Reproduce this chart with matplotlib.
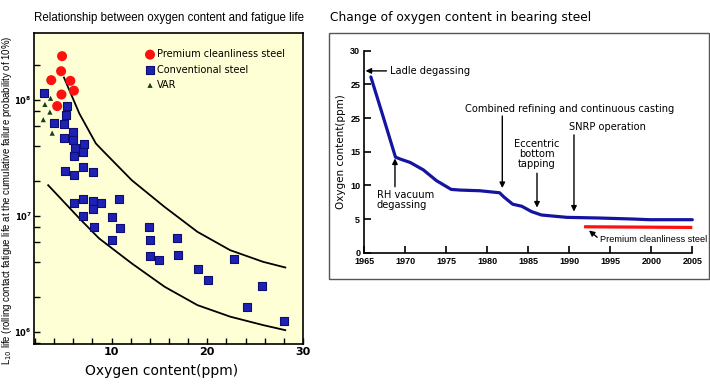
import matplotlib
matplotlib.use("Agg")
import matplotlib.pyplot as plt
import numpy as np
from matplotlib.ticker import LogLocator, NullFormatter, FixedLocator, FuncFormatter, MultipleLocator
from matplotlib.patches import Rectangle

# ---------------- data: left chart ----------------
premium_x = [4.83, 4.73, 3.70, 5.70, 6.07, 4.77, 4.32]
premium_y = [2.4e8, 1.78e8, 1.49e8, 1.47e8, 1.21e8, 1.12e8, 8.9e7]

var_x = [3.63, 3.04, 3.56, 2.87, 3.80]
var_y = [1.04e8, 9.2e7, 7.9e7, 6.8e7, 5.2e7]

conv_x = [2.97, 5.33, 5.22, 3.95, 5.08, 5.96, 5.0, 5.98, 7.17, 6.22, 7.04, 6.12, 5.12, 6.12, 7.04, 8.08,
          6.07, 7.07, 8.04, 8.9, 8.07, 7.07, 10.75, 10.0, 8.21, 10.85, 10.05,
          13.9, 13.99, 14.0, 14.96, 16.85, 16.98, 19.0, 20.07, 22.81, 25.75, 24.11, 28.06]
conv_y = [1.15e8, 8.9e7, 7.4e7, 6.3e7, 6.2e7, 5.3e7, 4.7e7, 4.5e7, 4.2e7, 3.9e7, 3.6e7, 3.3e7, 2.46e7, 2.28e7, 2.66e7, 2.39e7,
          1.29e7, 1.41e7, 1.35e7, 1.29e7, 1.15e7, 1.01e7, 1.40e7, 9.9e6, 8.0e6, 7.9e6, 6.2e6,
          8.0e6, 6.2e6, 4.5e6, 4.17e6, 6.5e6, 4.6e6, 3.5e6, 2.8e6, 4.3e6, 2.5e6, 1.64e6, 1.24e6]

upper_x = [5.03, 6.64, 8.36, 9.03, 10.06, 12.12, 15.55, 18.97, 22.39, 25.83, 28.15]
upper_y = [1.57e8, 7.67e7, 4.24e7, 3.71e7, 3.04e7, 2.04e7, 1.20e7, 7.33e6, 5.09e6, 4.04e6, 3.61e6]

lower_x = [3.38, 6.65, 8.70, 12.12, 15.55, 18.97, 22.39, 25.83, 28.15]
lower_y = [1.85e7, 9.55e6, 6.43e6, 3.91e6, 2.46e6, 1.71e6, 1.36e6, 1.15e6, 1.04e6]

legend_labels = ["Premium cleanliness steel", "Conventional steel", "VAR"]

# ---------------- data: right chart ----------------
years = [1965.8, 1967.3, 1968.8, 1969.4, 1970.6, 1972.2, 1973.8, 1975.6, 1976.7, 1979.1, 1981.5,
         1982.0, 1983.1, 1984.2, 1985.4, 1986.6, 1989.7, 1993.7, 1997.8, 1999.8, 2005.0]
oxygen = [26.1, 20.2, 14.2, 13.9, 13.4, 12.3, 10.7, 9.4, 9.3, 9.2, 8.9,
          8.3, 7.2, 6.9, 6.1, 5.6, 5.25, 5.15, 5.0, 4.9, 4.9]
premium_years = [1991.8, 2005.0]
premium_oxygen = [3.85, 3.75]

year_ticks = [1965, 1970, 1975, 1980, 1985, 1990, 1995, 2000, 2005]
ppm_ticks = [0, 5, 10, 15, 20, 25, 30]
ppm_labels = ["0", "5", "10", "15", "25", "25", "30"]

NARROW = ["Liberation Sans", "DejaVu Sans"]
plt.rcParams['font.family'] = ['DejaVu Sans']

W, H = 710, 391
fig = plt.figure(figsize=(W / 100, H / 100), dpi=100)

def fx(px):
    return px / W

def fy(py):
    return 1 - py / H

# ---------------- left chart ----------------
axL = fig.add_axes([fx(34), fy(344), fx(303) - fx(34), fy(33) - fy(344)])
axL.set_facecolor('#FFFFD5')
axL.set_yscale('log')
axL.set_xlim(1.9, 30)
axL.set_ylim(7.9e5, 3.8e8)

axL.plot(upper_x, upper_y, color='black', lw=1.3, zorder=2)
axL.plot(lower_x, lower_y, color='black', lw=1.3, zorder=2)
h1 = axL.scatter(premium_x, premium_y, s=52, marker='o', color='#FF1010', edgecolors='none', zorder=4)
h2 = axL.scatter(conv_x, conv_y, s=30, marker='s', facecolor='#1E22B4', edgecolors='#0E0E70', linewidths=0.8, zorder=3)
h3 = axL.scatter(var_x, var_y, s=14, marker='^', color='#1C3D1C', edgecolors='none', zorder=3)

axL.xaxis.set_major_locator(FixedLocator([10, 20, 30]))
axL.xaxis.set_minor_locator(MultipleLocator(2))
axL.yaxis.set_major_locator(LogLocator(base=10, numticks=10))
axL.yaxis.set_minor_locator(LogLocator(base=10, subs=(2, 4, 6, 8), numticks=10))
axL.yaxis.set_minor_formatter(NullFormatter())
axL.yaxis.set_major_formatter(FuncFormatter(lambda v, p: r'$\mathbf{10^{%d}}$' % round(np.log10(v))))
axL.tick_params(which='both', direction='in', length=4, width=1, top=False, right=False)
axL.tick_params(axis='x', labelsize=8, pad=2)
axL.tick_params(axis='y', labelsize=6.0, pad=1.5)
for lab in axL.get_xticklabels():
    lab.set_fontweight('bold')
for s in axL.spines.values():
    s.set_linewidth(1.2)

leg = axL.legend([h1, h2, h3], legend_labels, loc='upper left', bbox_to_anchor=(0.415, 0.948),
                 frameon=False, fontsize=7, handletextpad=0.25, handlelength=0.9,
                 labelspacing=0.55, borderpad=0, borderaxespad=0, scatterpoints=1)

fig.text(fx(169), fy(18), "Relationship between oxygen content and fatigue life",
         ha='center', va='center', fontsize=8.3, family=NARROW)
fig.text(fx(7.5), fy(200), "L$_{10}$ life (rolling contact fatigue life at the cumulative failure probability of 10%)",
         ha='center', va='center', rotation=90, fontsize=6.9, family=NARROW)
fig.text(fx(161.5), fy(371), "Oxygen content(ppm)", ha='center', va='center', fontsize=10)

# ---------------- right chart ----------------
box = Rectangle((fx(328.5), fy(279)), fx(709) - fx(328.5), fy(33.3) - fy(279),
                transform=fig.transFigure, fill=False, edgecolor='#555555', lw=1.0)
fig.patches.append(box)

axR = fig.add_axes([fx(364.3), fy(252.7), fx(692.3) - fx(364.3), fy(50.7) - fy(252.7)])
axR.patch.set_alpha(0)
axR.set_xlim(1965, 2005)
axR.set_ylim(0, 30)
axR.spines['top'].set_visible(False)
axR.spines['right'].set_visible(False)
axR.spines['left'].set_linewidth(1.2)
axR.spines['bottom'].set_linewidth(1.2)
axR.set_xticks(year_ticks)
axR.set_xticklabels([str(y) for y in year_ticks])
axR.set_yticks(ppm_ticks)
axR.set_yticklabels(ppm_labels)
axR.tick_params(direction='in', length=5, width=1.2, labelsize=6.5)
axR.tick_params(axis='x', pad=3)
axR.tick_params(axis='y', pad=3)
for lab in axR.get_xticklabels() + axR.get_yticklabels():
    lab.set_fontweight('bold')
    lab.set_family(NARROW)

axR.plot(years, oxygen, color='#1414A0', lw=2.3, solid_capstyle='round', solid_joinstyle='round', clip_on=False)
axR.plot(premium_years, premium_oxygen, color='#FF1010', lw=2.3, solid_capstyle='butt', clip_on=False)

axR.set_ylabel("Oxygen content(ppm)", fontsize=7.5, labelpad=3)

arrow = dict(arrowstyle='-|>', color='black', lw=1.0, mutation_scale=8, shrinkA=0, shrinkB=0)
fs = 7.1
axR.annotate('', xy=(1965.15, 27.0), xytext=(1967.7, 27.0), arrowprops=arrow)
axR.text(1968.1, 27.0, "Ladle degassing", fontsize=fs, va='center', ha='left')

axR.annotate('', xy=(1968.74, 14.0), xytext=(1968.74, 9.8), arrowprops=arrow)
axR.text(1966.5, 7.8, "RH vacuum\ndegassing", fontsize=fs, va='center', ha='left', linespacing=1.0)

axR.annotate('', xy=(1981.83, 9.6), xytext=(1981.83, 20.3), arrowprops=arrow)
axR.text(1990.0, 21.3, "Combined refining and continuous casting", fontsize=fs, va='center', ha='center')

axR.annotate('', xy=(1986.06, 6.7), xytext=(1986.06, 11.8), arrowprops=arrow)
axR.text(1986.06, 14.6, "Eccentric\nbottom\ntapping", fontsize=fs, va='center', ha='center', linespacing=1.0)

axR.annotate('', xy=(1990.57, 6.1), xytext=(1990.57, 17.5), arrowprops=arrow)
axR.text(1990.0, 18.6, "SNRP operation", fontsize=fs, va='center', ha='left')

axR.annotate('', xy=(1992.4, 3.3), xytext=(1993.4, 2.3), arrowprops=arrow)
axR.text(1993.7, 2.0, "Premium cleanliness steel", fontsize=6.6, va='center', ha='left', family=NARROW)

fig.text(fx(330), fy(17), "Change of oxygen content in bearing steel", ha='left', va='center', fontsize=8.8)

fig.savefig("out.png", dpi=100)
